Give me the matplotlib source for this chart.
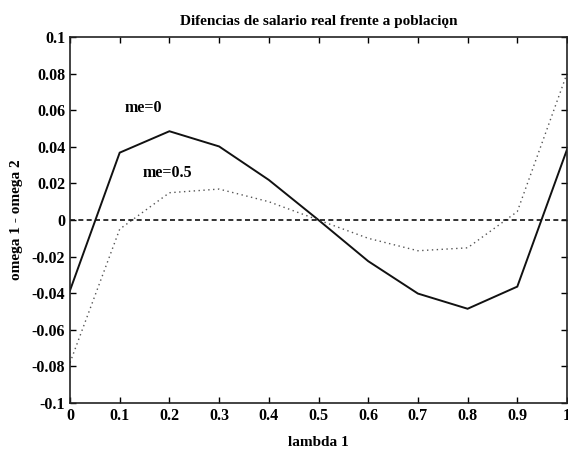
import matplotlib
matplotlib.use("Agg")
import matplotlib.pyplot as plt

lam = [0.0, 0.1, 0.2, 0.3, 0.4, 0.5, 0.6, 0.7, 0.8, 0.9, 1.0]
me0 = [-0.0385, 0.0368, 0.0485, 0.0402, 0.0219, 0.0, -0.0225, -0.0402, -0.0485, -0.0364, 0.0385]
me05 = [-0.078, -0.0050, 0.0149, 0.0169, 0.0100, 0.0, -0.0100, -0.0168, -0.0152, 0.0046, 0.080]
xticks = [0, 0.1, 0.2, 0.3, 0.4, 0.5, 0.6, 0.7, 0.8, 0.9, 1.0]
xticklabels = ["0", "0.1", "0.2", "0.3", "0.4", "0.5", "0.6", "0.7", "0.8", "0.9", "1"]
yticks = [-0.1, -0.08, -0.06, -0.04, -0.02, 0, 0.02, 0.04, 0.06, 0.08, 0.1]
yticklabels = ["-0.1", "-0.08", "-0.06", "-0.04", "-0.02", "0", "0.02", "0.04", "0.06", "0.08", "0.1"]

plt.rcParams['font.family'] = ['Liberation Serif', 'DejaVu Serif']
plt.rcParams['font.weight'] = 'bold'

fig = plt.figure(figsize=(5.68, 4.5), dpi=100)
ax = fig.add_axes([70/568, 47/450, 497/568, 366/450])

ax.plot(lam, me0, color='#111111', lw=1.4, solid_joinstyle='miter')
ax.plot(lam, me05, color='#555555', lw=1.0, linestyle=(0, (1, 2.5)))
ax.axhline(0, color='#111111', lw=1.2, linestyle=(0, (3, 2)))

ax.set_xlim(0, 1)
ax.set_ylim(-0.1, 0.1)
ax.set_xticks(xticks)
ax.set_xticklabels(xticklabels)
ax.set_yticks(yticks)
ax.set_yticklabels(yticklabels)
ax.tick_params(direction='in', length=4, top=True, right=True, labelsize=11.5, width=1)
for s in ax.spines.values():
    s.set_linewidth(1.2)
    s.set_color('#222222')

ax.text(0.11, 0.061, "me=0", fontsize=11.5, va='center', ha='left')
ax.text(0.147, 0.0257, "me=0.5", fontsize=11.5, va='center', ha='left')

ax.set_title("Difencias de salario real frente a poblaciǫn", fontsize=11, fontweight='bold', pad=9)
ax.set_xlabel("lambda 1", fontsize=11, fontweight='bold', labelpad=9)
ax.set_ylabel("omega 1 - omega 2", fontsize=11, fontweight='bold', labelpad=6)

fig.savefig("out.png", dpi=100)
